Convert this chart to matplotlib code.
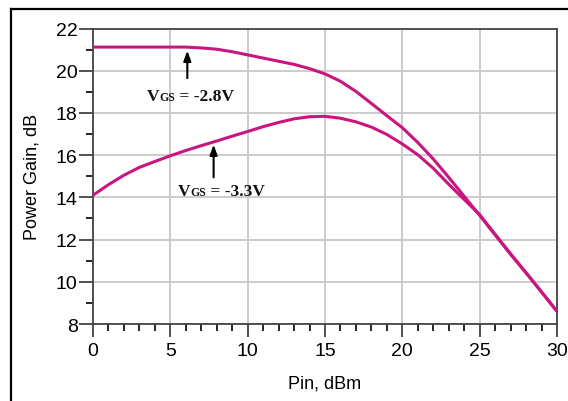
import matplotlib
matplotlib.use('Agg')
import matplotlib.pyplot as plt
from matplotlib.lines import Line2D
from matplotlib.ticker import MultipleLocator
from matplotlib.offsetbox import TextArea, HPacker, AnnotationBbox

# input power, dBm
pin = [0, 1, 2, 3, 4, 5, 6, 7, 8, 9, 10, 11, 12, 13, 14, 15,
       16, 17, 18, 19, 20, 21, 22, 23, 24, 25, 26, 27, 28, 29, 30]

# power gain, dB
gain_28 = [21.12, 21.12, 21.12, 21.12, 21.12, 21.12, 21.12, 21.08, 21.02, 20.9,
           20.75, 20.6, 20.45, 20.3, 20.1, 19.85, 19.5, 19.02, 18.45, 17.87,
           17.3, 16.6, 15.82, 14.95, 14.05, 13.15, 12.22, 11.3, 10.42, 9.52, 8.6]
gain_33 = [14.1, 14.6, 15.05, 15.42, 15.7, 15.97, 16.22, 16.45, 16.67, 16.9,
           17.12, 17.35, 17.55, 17.72, 17.82, 17.84, 17.75, 17.58, 17.33, 16.98,
           16.53, 16.02, 15.38, 14.62, 13.9, 13.18, 12.25, 11.33, 10.43, 9.52, 8.6]

line_color = '#c8157f'

plt.rcParams['font.family'] = ['Liberation Sans', 'DejaVu Sans']

fig = plt.figure(figsize=(5.68, 4.02), dpi=100)
ax = fig.add_axes([0.1637, 0.1915, 0.8169, 0.7351])

ax.plot(pin, gain_28, color=line_color, lw=2.2, solid_capstyle='butt', zorder=3)
ax.plot(pin, gain_33, color=line_color, lw=2.2, solid_capstyle='butt', zorder=3)

ax.set_xlim(0, 30)
ax.set_ylim(8, 22)
ax.xaxis.set_major_locator(MultipleLocator(5))
ax.xaxis.set_minor_locator(MultipleLocator(1))
ax.yaxis.set_major_locator(MultipleLocator(2))
ax.yaxis.set_minor_locator(MultipleLocator(1))

ax.grid(True, which='major', color='#c8c8c8', lw=1.3)
ax.set_axisbelow(True)

ax.tick_params(axis='both', which='major', labelsize=14, color='#333333')
ax.tick_params(axis='x', which='major', length=9, width=1.2, pad=4)
ax.tick_params(axis='x', which='minor', length=5, width=1.2)
ax.tick_params(axis='y', which='major', length=10, width=1.2, pad=1)
ax.tick_params(axis='y', which='minor', length=5, width=1.2)

for s in ax.spines.values():
    s.set_color('#444444')
    s.set_linewidth(1.3)

ax.set_xlabel('Pin, dBm', fontsize=13, labelpad=11)
ax.set_ylabel('Power Gain, dB', fontsize=13, labelpad=11)


def vgs_label(value, x, y):
    big = dict(family='Liberation Serif', weight='bold', size=12.5, color='#111111')
    small = dict(family='Liberation Serif', weight='bold', size=8.5, color='#111111')
    box = HPacker(children=[TextArea('V', textprops=big),
                            TextArea('GS', textprops=small),
                            TextArea(' = ' + value, textprops=big)],
                  align='baseline', pad=0, sep=0)
    ab = AnnotationBbox(box, (x, y), xycoords='data', frameon=False,
                        box_alignment=(0.5, 0.5), zorder=4)
    ax.add_artist(ab)


arrow = dict(arrowstyle='-|>,head_length=0.6,head_width=0.22', color='black',
             lw=1.5, shrinkA=0, shrinkB=0)
ax.annotate('', xy=(6.1, 20.95), xytext=(6.1, 19.65), arrowprops=arrow)
ax.annotate('', xy=(7.8, 16.5), xytext=(7.8, 14.95), arrowprops=arrow)

vgs_label('-2.8V', 6.3, 18.8)
vgs_label('-3.3V', 8.3, 14.3)

# outer frame around the figure (top and left edges)
fig.add_artist(Line2D([11 / 568, 1.0], [1 - 9.5 / 402, 1 - 9.5 / 402],
                      transform=fig.transFigure, color='black', lw=1.6))
fig.add_artist(Line2D([11 / 568, 11 / 568], [0.0, 1 - 9.5 / 402],
                      transform=fig.transFigure, color='black', lw=1.6))

fig.savefig('out.png', dpi=100)
